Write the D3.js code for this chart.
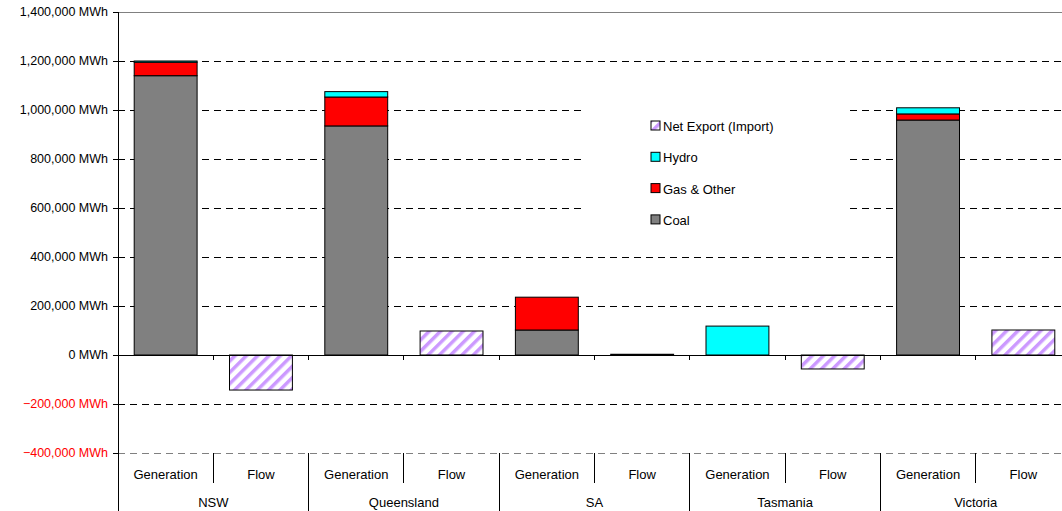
<!DOCTYPE html>
<html>
<head>
<meta charset="utf-8">
<script src="https://cdn.jsdelivr.net/npm/d3@7"></script>
<style>
  body { margin: 0; background: #fff; }
  text { font-family: "Liberation Sans", Arial, sans-serif; }
  line { shape-rendering: crispEdges; }
</style>
</head>
<body>
<svg id="chart" width="1062" height="511"></svg>
<script>
// State-by-state generation vs interconnector flow
const regions = ['NSW', 'Queensland', 'SA', 'Tasmania', 'Victoria'];
const kinds = ['Generation', 'Flow'];
const coal = [1140000, 935000, 102000, 0, 959000];
const gas = [55000, 118000, 134000, 0, 25000];
const hydro = [5000, 22000, 0, 118000, 25000];
const netExport = [-143000, 98000, 3000, -57000, 102000];
const yTicks = [-400000, -200000, 0, 200000, 400000, 600000, 800000, 1000000, 1200000, 1400000];

const seriesInfo = [
  { key: 'coal', name: 'Coal', fill: '#808080' },
  { key: 'gas', name: 'Gas & Other', fill: '#ff0000' },
  { key: 'hydro', name: 'Hydro', fill: '#00ffff' },
  { key: 'net', name: 'Net Export (Import)', fill: 'url(#hatch)' }
];

const svg = d3.select('#chart');
const plotL = 118, plotR = 1071, plotT = 12, plotB = 453;

// hatch for net export bars
const defs = svg.append('defs');
const pat = defs.append('pattern')
  .attr('id', 'hatch')
  .attr('patternUnits', 'userSpaceOnUse')
  .attr('width', 8).attr('height', 8)
  .attr('patternTransform', 'rotate(45)');
pat.append('rect').attr('width', 8).attr('height', 8).attr('fill', '#fff');
pat.append('rect').attr('x', 0).attr('width', 3.5).attr('height', 8).attr('fill', '#cc99ff');

const cats = [];
regions.forEach((r, i) => kinds.forEach(k => cats.push({ id: r + '|' + k, region: r, kind: k, i })));

const x = d3.scaleBand().domain(cats.map(c => c.id)).range([plotL, plotR])
  .paddingInner(0.34).paddingOuter(0.17);
const y = d3.scaleLinear().domain([-400000, 1400000]).range([plotB, plotT]);
const fmt = d3.format(',');

// gridlines
svg.append('g').selectAll('line')
  .data(yTicks.filter(t => t !== 0))
  .enter().append('line')
  .attr('x1', plotL).attr('x2', plotR)
  .attr('y1', d => y(d)).attr('y2', d => y(d))
  .attr('stroke', d => d === 1400000 || d === -400000 ? '#808080' : '#000')
  .attr('stroke-width', 1)
  .attr('stroke-dasharray', d => d === 1400000 ? null : '7,5');

// stacked bars
const rows = regions.map((r, i) => ({ region: r, coal: coal[i], gas: gas[i], hydro: hydro[i] }));
const stack = d3.stack().keys(['coal', 'gas', 'hydro'])(rows);
const gBars = svg.append('g');
stack.forEach((layer, li) => {
  gBars.selectAll('.s' + li)
    .data(layer.filter(d => d[1] - d[0] > 0))
    .enter().append('rect')
    .attr('x', d => x(d.data.region + '|Generation'))
    .attr('width', x.bandwidth())
    .attr('y', d => y(d[1]))
    .attr('height', d => y(d[0]) - y(d[1]))
    .attr('fill', seriesInfo[li].fill)
    .attr('stroke', '#000').attr('stroke-width', 1);
});

// flow bars
gBars.selectAll('.flow')
  .data(regions.map((r, i) => ({ region: r, v: netExport[i] })))
  .enter().append('rect')
  .attr('x', d => x(d.region + '|Flow'))
  .attr('width', x.bandwidth())
  .attr('y', d => y(Math.max(0, d.v)))
  .attr('height', d => Math.abs(y(d.v) - y(0)))
  .attr('fill', 'url(#hatch)')
  .attr('stroke', '#000').attr('stroke-width', 1);

// zero axis with ticks at category boundaries
const catW = (plotR - plotL) / cats.length;
svg.append('line')
  .attr('x1', plotL).attr('x2', plotR)
  .attr('y1', y(0)).attr('y2', y(0))
  .attr('stroke', '#000');
svg.append('g').selectAll('line')
  .data(d3.range(1, cats.length + 1))
  .enter().append('line')
  .attr('x1', k => plotL + catW * k)
  .attr('x2', k => plotL + catW * k)
  .attr('y1', y(0)).attr('y2', y(0) + 5)
  .attr('stroke', '#000');

// y axis
svg.append('line').attr('x1', plotL).attr('x2', plotL).attr('y1', plotT).attr('y2', 511).attr('stroke', '#000');
svg.append('g').selectAll('line')
  .data(yTicks).enter().append('line')
  .attr('x1', plotL - 5).attr('x2', plotL)
  .attr('y1', d => y(d)).attr('y2', d => y(d))
  .attr('stroke', '#000');
svg.append('g').selectAll('text')
  .data(yTicks).enter().append('text')
  .attr('x', plotL - 10).attr('y', d => y(d) + 4)
  .attr('text-anchor', 'end')
  .attr('font-size', 12.5)
  .attr('fill', d => d < 0 ? '#ff0000' : '#000')
  .text(d => fmt(d) + ' MWh');

// category axis at the bottom
svg.append('g').selectAll('line')
  .data(d3.range(1, cats.length))
  .enter().append('line')
  .attr('x1', k => plotL + catW * k).attr('x2', k => plotL + catW * k)
  .attr('y1', plotB).attr('y2', k => k % 2 === 0 ? 511 : 483)
  .attr('stroke', '#000');
svg.append('g').selectAll('text')
  .data(cats).enter().append('text')
  .attr('x', (c, k) => plotL + catW * (k + 0.5))
  .attr('y', 479)
  .attr('text-anchor', 'middle')
  .attr('font-size', 13)
  .text(c => c.kind);
svg.append('g').selectAll('text')
  .data(regions).enter().append('text')
  .attr('x', (r, i) => plotL + catW * (2 * i + 1))
  .attr('y', 507)
  .attr('text-anchor', 'middle')
  .attr('font-size', 13)
  .text(r => r);

// legend, white box breaks the gridlines
const lg = svg.append('g');
lg.append('rect').attr('x', 585).attr('y', 100).attr('width', 260).attr('height', 135).attr('fill', '#fff');
const legendOrder = seriesInfo.slice().reverse();
legendOrder.forEach((s, i) => {
  const ly = 126 + i * 31.3;
  lg.append('rect').attr('x', 651).attr('y', ly - 5).attr('width', 9).attr('height', 9)
    .attr('fill', s.fill).attr('stroke', '#000').attr('stroke-width', 1);
  lg.append('text').attr('x', 663).attr('y', ly + 5)
    .attr('font-size', 13).text(s.name);
});
</script>
</body>
</html>
